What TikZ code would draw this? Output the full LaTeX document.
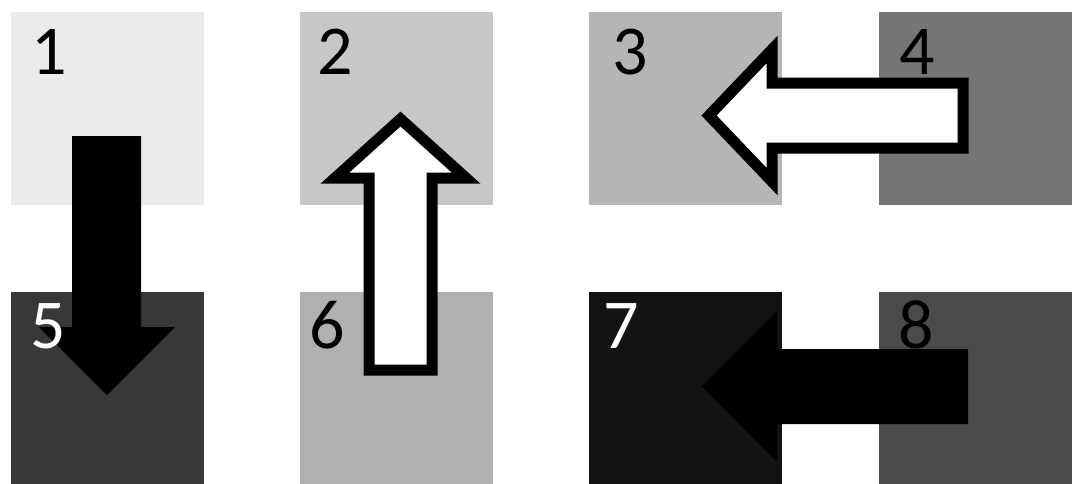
\documentclass[tikz,border=0pt]{standalone}
\usepackage{fontspec}
\setmainfont{Carlito}

\def\cellW{193}
\def\cellH{193}
\tikzset{
  cell/.style={draw=none,inner sep=0pt,anchor=north west,minimum width=\cellW*0.5pt,minimum height=\cellH*0.5pt},
  numlab/.style={inner sep=0pt,anchor=base west,font=\fontsize{35pt}{35pt}\selectfont},
  solidarrow/.style={fill=black,draw=none},
  hollowarrow/.style={fill=white,draw=black,line width=5.5pt,line join=miter}
}

\begin{document}
\begin{tikzpicture}[x=0.5pt,y=-0.5pt]
  \useasboundingbox (0,0) rectangle (1074,483);
  % grey cells, top row then bottom row
  \foreach \n/\x/\y/\g in {1/11/12/8, 2/300/12/22, 3/589/12/29, 4/879/12/54,
                           5/11/292/78, 6/300/292/31, 7/589/292/93, 8/879/292/71} {
    \node[cell,fill=black!\g] (sq\n) at (\x,\y) {};
  }
  % 1 -> 5
  \draw[solidarrow] (72,136) -- (141,136) -- (141,327) -- (175,327) -- (107,395)
    -- (39,327) -- (72,327) -- cycle;
  % 6 -> 2
  \draw[hollowarrow] (369,370) -- (432,370) -- (432,178) -- (466,178) -- (400.5,119)
    -- (335,178) -- (369,178) -- cycle;
  % 4 -> 3
  \draw[hollowarrow] (963,83) -- (963,148) -- (772,148) -- (772,181.5) -- (709,115.5)
    -- (772,49.5) -- (772,83) -- cycle;
  % 8 -> 7
  \draw[solidarrow] (968,349) -- (968,424) -- (777,424) -- (777,462) -- (702,386.5)
    -- (777,311) -- (777,349) -- cycle;
  % numbers
  \foreach \n/\x/\y/\t in {1/31/74/black, 2/317/74/black, 3/612/74/black, 4/899/74/black,
                           5/30/348/white, 6/309/348/black, 7/603/348/white, 8/898/348/black} {
    \node[numlab,text=\t] (lab\n) at (\x,\y) {\n};
  }
\end{tikzpicture}
\end{document}
